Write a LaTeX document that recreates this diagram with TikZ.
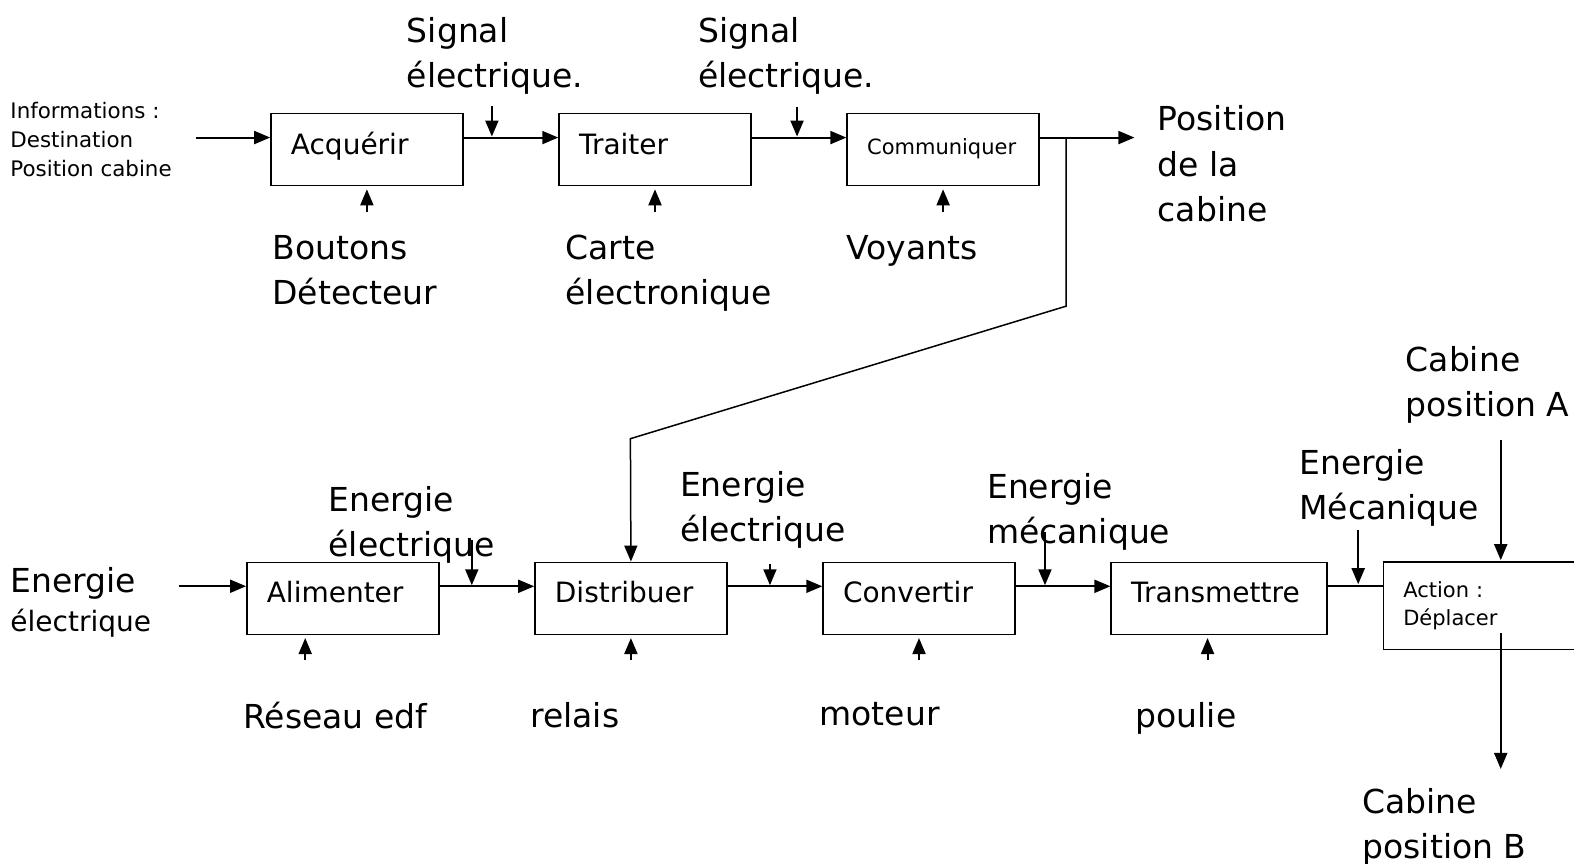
\documentclass[tikz,border=0pt]{standalone}
\usepackage{fontspec}
\setmainfont{DejaVu Sans}
\usepackage{tikz}
\usetikzlibrary{positioning, arrows.meta}

\begin{document}
\begin{tikzpicture}[
        x=0.502pt, y=-0.502pt,
        blk/.style={
            rectangle,
            draw,
            line width=0.75pt,
            align=left,
            minimum width=96pt,
            minimum height=36pt,
            inner xsep=10pt,
            text width=76pt,
            text height=0.76em,
            text depth=0.3em,
            font=\fontsize{14}{17}\selectfont
        },
        lab/.style={
            anchor=north west,
            inner sep=0pt,
            align=left,
            font=\fontsize{16.5}{22.6}\selectfont
        },
        note/.style={
            lab,
            font=\fontsize{10.7}{14.6}\selectfont
        },
        flow/.style={
            -{Triangle[length=8pt,width=6.5pt]},
            line width=1pt
        }
    ]

        \clip (0,0) rectangle (1568,860);

        \node[blk] (acq) at (365.5,149) {Acquérir};
        \node[blk] (trt) at (652.5,149) {Traiter};
        \node[blk, font=\fontsize{10.5}{14}\selectfont] (com) at (939.5,149) {Communiquer};

        \node[blk] (ali) at (341.5,596) {Alimenter};
        \node[blk] (dis) at (628.5,596) {Distribuer};
        \node[blk] (cvt) at (915.5,596) {Convertir};
        \node[blk, minimum width=108pt, text width=88pt] (trm) at (1214.5,596) {Transmettre};
        \node[blk, minimum width=106.4pt, text width=86.4pt, minimum height=43.7pt,
            text height={}, text depth={},
            font=\fontsize{10.5}{14}\selectfont] (act) at (1484,603.5) {Action :\\Déplacer};

        \node[note] (info) at (10,101) {Informations :\\Destination\\Position cabine};
        \node[lab] (sig1) at (405,17) {Signal\\électrique.};
        \node[lab] (sig2) at (695,17) {Signal\\électrique.};
        \node[lab] (posout) at (1153,105) {Position\\de la\\cabine};
        \node[lab] (bout) at (271,234) {Boutons\\Détecteur};
        \node[lab] (carte) at (563,234) {Carte\\électronique};
        \node[lab] (voy) at (843,234) {Voyants};

        \node[lab] (enin) at (10,565) {Energie\\[-3pt]{\fontsize{14}{19}\selectfont électrique}};
        \node[lab] (en1) at (327,484) {Energie\\électrique};
        \node[lab] (en2) at (677,469) {Energie\\électrique};
        \node[lab] (en3) at (983,471) {Energie\\mécanique};
        \node[lab] (en4) at (1294,447) {Energie\\Mécanique};
        \node[lab] (caba) at (1400,345) {Cabine\\position A};
        \node[lab] (cabb) at (1357,785) {Cabine\\position B};

        \node[lab] (reseau) at (242,699) {Réseau edf};
        \node[lab] (relais) at (528,699) {relais};
        \node[lab] (moteur) at (816,699) {moteur};
        \node[lab] (poulie) at (1131,699) {poulie};

        \coordinate (in1) at (195,137);
        \coordinate (in2) at (178,584);
        \coordinate (split) at (1062,137);
        \coordinate (bend1) at (1062,305);
        \coordinate (bend2) at (628,437);

        \draw[flow] (in1) -- (in1 -| acq.west);
        \draw[flow] ([yshift=6pt]acq.east) -- ([yshift=6pt]trt.west);
        \draw[flow] ([yshift=6pt]trt.east) -- ([yshift=6pt]com.west);
        \draw[flow, shorten >=11.5pt] ([yshift=6pt]com.east) -- ([yshift=6pt]com.east -| posout.west);
        \draw[line width=0.75pt, -{Triangle[length=8pt,width=6.5pt]}] (split) -- (bend1) -- (bend2) -- (dis.north);

        \draw[flow] (in2) -- (in2 -| ali.west);
        \draw[flow] ([yshift=6pt]ali.east) -- ([yshift=6pt]dis.west);
        \draw[flow] ([yshift=6pt]dis.east) -- ([yshift=6pt]cvt.west);
        \draw[flow] ([yshift=6pt]cvt.east) -- ([yshift=6pt]trm.west);
        \draw[line width=1pt] ([yshift=6pt]trm.east) -- ([yshift=6pt]trm.east -| act.west);

        \draw[flow] (490,106) -- ++(0,30);
        \draw[flow] (794,107) -- ++(0,29);
        \draw[flow] (470,538) -- ++(0,45);
        \draw[flow] (767,562) -- ++(0,21);
        \draw[flow] (1041,530) -- ++(0,53);
        \draw[flow] (1353,528) -- ++(0,54);
        \draw[flow] (1495,438) -- ++(0,120);
        \draw[flow] (1495,631) -- ++(0,135);

        \draw[flow] ([yshift=-13pt]acq.south) -- ([yshift=-1.5pt]acq.south);
        \draw[flow] ([yshift=-13pt]trt.south) -- ([yshift=-1.5pt]trt.south);
        \draw[flow] ([yshift=-13pt]com.south) -- ([yshift=-1.5pt]com.south);
        \draw[flow] ([xshift=-18.8pt, yshift=-12.5pt]ali.south) -- ([xshift=-18.8pt, yshift=-1.5pt]ali.south);
        \draw[flow] ([yshift=-12.5pt]dis.south) -- ([yshift=-1.5pt]dis.south);
        \draw[flow] ([yshift=-12.5pt]cvt.south) -- ([yshift=-1.5pt]cvt.south);
        \draw[flow] ([xshift=-5.8pt, yshift=-12.5pt]trm.south) -- ([xshift=-5.8pt, yshift=-1.5pt]trm.south);

    \end{tikzpicture}
\end{document}
